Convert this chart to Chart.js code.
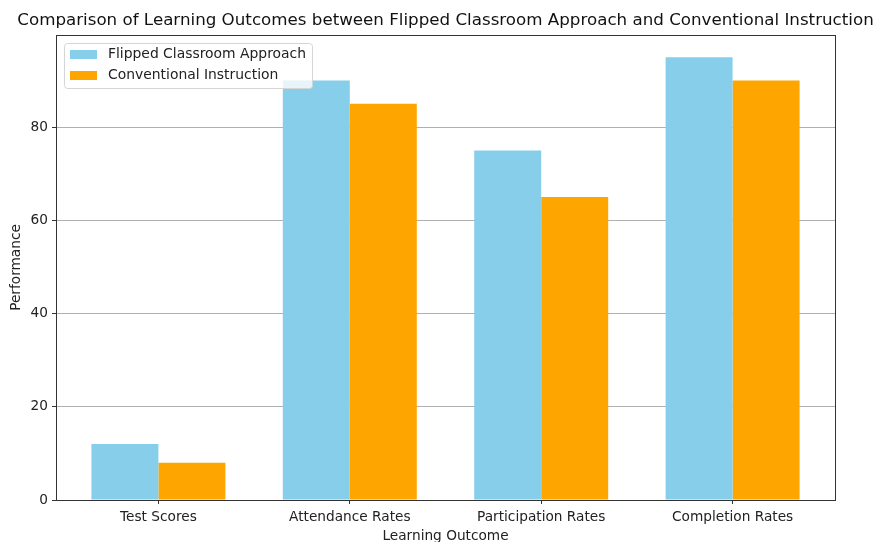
<!DOCTYPE html>
<html>
<head>
<meta charset="utf-8">
<script src="https://cdn.jsdelivr.net/npm/chart.js@4"></script>
<style>
  html, body { margin: 0; padding: 0; background: #fff; }
  #wrap { width: 876px; height: 542px; }
</style>
</head>
<body>
<div id="wrap"><canvas id="chart"></canvas></div>
<script>
// data
const outcomes = ['Test Scores', 'Attendance Rates', 'Participation Rates', 'Completion Rates'];
const flipped = [12, 90, 75, 95];
const conventional = [8, 85, 65, 90];
const seriesNames = ['Flipped Classroom Approach', 'Conventional Instruction'];
const yTicks = [0, 20, 40, 60, 80];
const chartTitle = 'Comparison of Learning Outcomes between Flipped Classroom Approach and Conventional Instruction';

const FONT = 'DejaVu Sans';
const TICK_SIZE = 13.7;

// bars live on a numeric x axis so the spacing matches the original
const toPoints = vals => vals.map((v, i) => ({ x: i, y: v }));

// title over the axes, frame around the plot, legend box inside the axes
const framePlugin = {
  id: 'frame',
  afterDraw(chart) {
    const { ctx, chartArea: a } = chart;
    ctx.save();
    ctx.strokeStyle = '#333';
    ctx.lineWidth = 1;
    ctx.strokeRect(a.left + 0.5, a.top + 0.5, a.right - a.left, a.bottom - a.top);

    ctx.fillStyle = '#111';
    ctx.font = '16.7px ' + FONT;
    ctx.textAlign = 'center';
    ctx.textBaseline = 'middle';
    ctx.fillText(chartTitle, (a.left + a.right) / 2, 21);

    // legend
    const lx = a.left + 8, ly = a.top + 8, lw = 248, lh = 45;
    ctx.fillStyle = 'rgba(255,255,255,0.8)';
    ctx.strokeStyle = '#d5d5d5';
    ctx.beginPath();
    ctx.roundRect(lx + 0.5, ly + 0.5, lw, lh, 3);
    ctx.fill();
    ctx.stroke();
    ctx.font = '13.9px ' + FONT;
    ctx.textAlign = 'left';
    chart.data.datasets.forEach((ds, i) => {
      const cy = ly + 11 + i * 21;
      ctx.fillStyle = ds.backgroundColor;
      ctx.fillRect(lx + 6, cy - 4, 27, 9);
      ctx.fillStyle = '#222';
      ctx.fillText(ds.label, lx + 44, cy);
    });
    ctx.restore();
  }
};

new Chart(document.getElementById('chart'), {
  type: 'bar',
  data: {
    datasets: [
      { label: seriesNames[0], data: toPoints(flipped), backgroundColor: '#87CEEB' },
      { label: seriesNames[1], data: toPoints(conventional), backgroundColor: '#FFA500' }
    ]
  },
  options: {
    responsive: true,
    maintainAspectRatio: false,
    animation: false,
    categoryPercentage: 0.7,
    barPercentage: 1.0,
    layout: { padding: { left: 0, right: 41, top: 35, bottom: 0 } },
    plugins: {
      legend: { display: false },
      tooltip: { enabled: false },
      title: { display: false }
    },
    scales: {
      x: {
        type: 'linear',
        offset: false,
        min: -0.535,
        max: 3.535,
        afterBuildTicks(scale) {
          scale.ticks = outcomes.map((_, i) => ({ value: i }));
        },
        afterFit(scale) { scale.height = 42; },
        grid: { display: true, drawOnChartArea: false, drawTicks: true, tickLength: 4, color: '#333', offset: false },
        border: { color: '#333' },
        ticks: {
          color: '#222',
          padding: 5,
          maxRotation: 0,
          font: { family: FONT, size: TICK_SIZE },
          callback: v => outcomes[v] ?? ''
        },
        title: {
          display: true,
          text: 'Learning Outcome',
          color: '#222',
          font: { family: FONT, size: TICK_SIZE },
          padding: { top: 0, bottom: -3 }
        }
      },
      y: {
        min: 0,
        max: 99.75,
        afterBuildTicks(scale) {
          scale.ticks = yTicks.map(v => ({ value: v }));
        },
        afterFit(scale) { scale.width = 56; },
        grid: { color: '#b0b0b0', tickLength: 4, tickColor: '#333' },
        border: { color: '#333' },
        ticks: {
          color: '#222',
          padding: 4,
          font: { family: FONT, size: TICK_SIZE }
        },
        title: {
          display: true,
          text: 'Performance',
          color: '#222',
          font: { family: FONT, size: TICK_SIZE },
          padding: { top: 8, bottom: 0 }
        }
      }
    }
  },
  plugins: [framePlugin]
});
</script>
</body>
</html>
